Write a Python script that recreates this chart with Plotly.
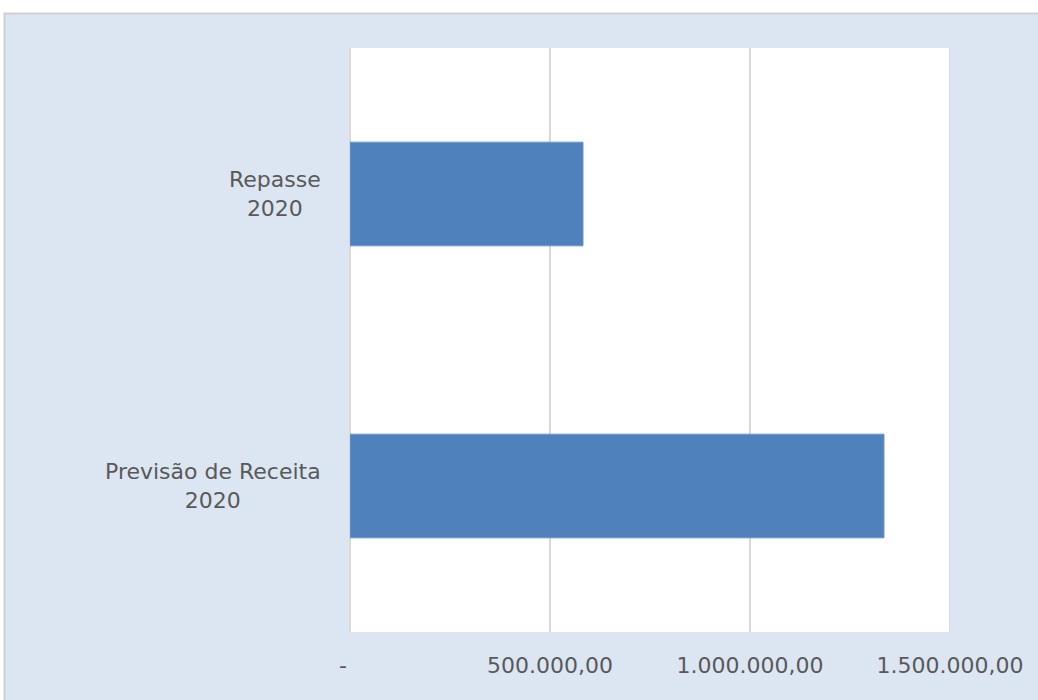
import plotly.graph_objects as go

categories = ["Previsão de Receita 2020", "Repasse 2020"]
cat_labels = ["Previsão de Receita<br>2020", "Repasse<br>2020"]
values = [1335000, 582500]
tick_vals = [0, 500000, 1000000, 1500000]
tick_text = ["-\u00a0\u00a0", "500.000,00", "1.000.000,00", "1.500.000,00"]

W, H = 1038, 700
L, R, T, B = 350, 88, 48, 68
pw, ph = W - L - R, H - T - B

def px_x(p):
    return (p - L) / pw

def px_y(p):
    return (H - B - p) / ph

BG = "#DCE6F2"
TXT = "#595959"
GRID = "#D9D9D9"
FONT = "DejaVu Sans"
FS = 22

fig = go.Figure()
fig.add_trace(go.Bar(
    y=categories, x=values, orientation="h",
    marker=dict(color="#4F81BD", line=dict(color="#6A96CC", width=1)),
    hoverinfo="skip",
))

annotations = []
for c, lab in zip(categories, cat_labels):
    annotations.append(dict(
        x=px_x(323), xref="paper", y=c, yref="y",
        text=lab, showarrow=False, xanchor="right", yanchor="middle",
        align="center", font=dict(family=FONT, size=FS, color=TXT),
    ))

shapes = [
    dict(type="rect", xref="paper", yref="paper", layer="below",
         x0=px_x(-10), x1=px_x(W + 10), y0=px_y(13), y1=px_y(-10),
         fillcolor="white", line=dict(width=0)),
    dict(type="rect", xref="paper", yref="paper", layer="below",
         x0=px_x(-10), x1=px_x(4), y0=px_y(H + 10), y1=px_y(-10),
         fillcolor="white", line=dict(width=0)),
    dict(type="rect", xref="paper", yref="paper", layer="below",
         x0=px_x(4.5), x1=px_x(W + 20), y0=px_y(H + 20), y1=px_y(13.5),
         fillcolor="rgba(0,0,0,0)", line=dict(color="#D0D0D0", width=2)),
    # last vertical gridline (at the end of the axis range)
    dict(type="line", xref="x", yref="paper", layer="below",
         x0=tick_vals[-1], x1=tick_vals[-1], y0=0, y1=1,
         line=dict(color=GRID, width=2)),
]

fig.update_layout(
    width=W, height=H,
    margin=dict(l=L, r=R, t=T, b=B, autoexpand=False),
    paper_bgcolor=BG, plot_bgcolor="white",
    showlegend=False,
    bargap=0.645,
    font=dict(family=FONT, color=TXT, size=FS),
    annotations=annotations,
    shapes=shapes,
    xaxis=dict(
        range=[0, 1500000], tickvals=tick_vals, ticktext=tick_text,
        showgrid=True, gridcolor=GRID, gridwidth=2,
        zeroline=True, zerolinecolor=GRID, zerolinewidth=2,
        showline=False, ticks="", ticklabelstandoff=18,
        tickfont=dict(family=FONT, size=FS, color=TXT), fixedrange=True,
    ),
    yaxis=dict(
        showticklabels=False, showgrid=False, zeroline=False, showline=False,
        ticks="", fixedrange=True,
    ),
)

fig.write_html(
    "out.html",
    config={"displayModeBar": False},
    post_script="document.body.style.margin='0';document.body.style.padding='0';",
)
